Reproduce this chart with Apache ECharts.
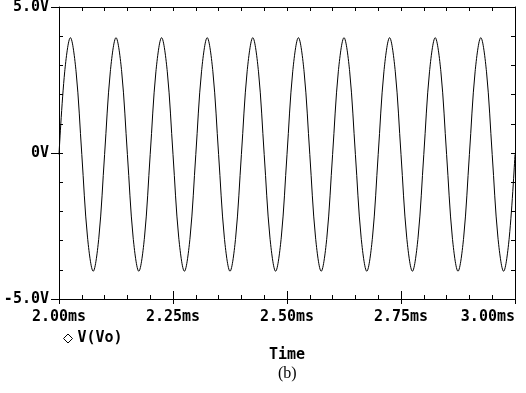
<!DOCTYPE html>
<html>
<head>
<meta charset="utf-8">
<script src="https://cdn.jsdelivr.net/npm/echarts@6/dist/echarts.min.js"></script>
<style>html,body{margin:0;padding:0;background:#fff}#c{width:526px;height:393px}</style>
</head>
<body>
<div id="c"></div>
<script>
// Time (ms)
const times = [
 2.0000,2.0125,2.0250,2.0375,2.0500,2.0625,2.0750,2.0875,
 2.1000,2.1125,2.1250,2.1375,2.1500,2.1625,2.1750,2.1875,
 2.2000,2.2125,2.2250,2.2375,2.2500,2.2625,2.2750,2.2875,
 2.3000,2.3125,2.3250,2.3375,2.3500,2.3625,2.3750,2.3875,
 2.4000,2.4125,2.4250,2.4375,2.4500,2.4625,2.4750,2.4875,
 2.5000,2.5125,2.5250,2.5375,2.5500,2.5625,2.5750,2.5875,
 2.6000,2.6125,2.6250,2.6375,2.6500,2.6625,2.6750,2.6875,
 2.7000,2.7125,2.7250,2.7375,2.7500,2.7625,2.7750,2.7875,
 2.8000,2.8125,2.8250,2.8375,2.8500,2.8625,2.8750,2.8875,
 2.9000,2.9125,2.9250,2.9375,2.9500,2.9625,2.9750,2.9875,
 3.0000
];
// V(Vo) in volts
const vo = [
 -0.05,2.78,3.95,2.78,-0.05,-2.88,-4.05,-2.88,
 -0.05,2.78,3.95,2.78,-0.05,-2.88,-4.05,-2.88,
 -0.05,2.78,3.95,2.78,-0.05,-2.88,-4.05,-2.88,
 -0.05,2.78,3.95,2.78,-0.05,-2.88,-4.05,-2.88,
 -0.05,2.78,3.95,2.78,-0.05,-2.88,-4.05,-2.88,
 -0.05,2.78,3.95,2.78,-0.05,-2.88,-4.05,-2.88,
 -0.05,2.78,3.95,2.78,-0.05,-2.88,-4.05,-2.88,
 -0.05,2.78,3.95,2.78,-0.05,-2.88,-4.05,-2.88,
 -0.05,2.78,3.95,2.78,-0.05,-2.88,-4.05,-2.88,
 -0.05,2.78,3.95,2.78,-0.05,-2.88,-4.05,-2.88,
 -0.05
];
const xLabels = ['2.00ms','2.25ms','2.50ms','2.75ms','3.00ms'];
const yLabels = {'-5':'-5.0V','0':'0V','5':'5.0V'};
const seriesName = 'V(Vo)';
const xTitle = 'Time';
const caption = '(b)';

const mono = '"DejaVu Sans Mono", monospace';
const blk = {color:'#000', width:1};
const chart = echarts.init(document.getElementById('c'), null, {renderer:'canvas'});
const hidden = {show:false};
const base = {type:'value', min:2, max:3, splitLine:hidden};
const lbl = {fontFamily:mono, fontWeight:'bold', fontSize:15, color:'#000'};
chart.setOption({
  animation:false,
  backgroundColor:'#fff',
  grid:{left:59, right:11, top:7, bottom:94, containLabel:false, outerBoundsMode:'none'},
  legend:{
    data:[seriesName], left:58, top:326, icon:'path://M5,0 L10,5 L5,10 L0,5 Z',
    itemWidth:9, itemHeight:9, itemGap:8,
    itemStyle:{color:'#fff', borderColor:'#000', borderWidth:1},
    textStyle:lbl
  },
  xAxis:[
    Object.assign({}, base, {position:'bottom', interval:0.25,
      axisLine:{show:true, onZero:false, lineStyle:blk},
      axisTick:{show:true, inside:false, length:5, lineStyle:blk},
      axisLabel:Object.assign({margin:11, alignMaxLabel:'right',
        formatter:(v)=>xLabels[Math.round((v-2)/0.25)]}, lbl),
      name:xTitle, nameLocation:'middle', nameGap:49,
      nameTextStyle:lbl}),
    Object.assign({}, base, {position:'bottom', interval:0.05,
      axisLine:{show:false, onZero:false}, axisLabel:hidden,
      axisTick:{show:true, inside:true, length:4, lineStyle:blk}}),
    Object.assign({}, base, {position:'bottom', interval:0.25,
      axisLine:{show:false, onZero:false}, axisLabel:hidden,
      axisTick:{show:true, inside:true, length:8, lineStyle:blk}}),
    Object.assign({}, base, {position:'top', interval:0.05,
      axisLine:{show:true, onZero:false, lineStyle:blk}, axisLabel:hidden,
      axisTick:{show:true, inside:true, length:4, lineStyle:blk}})
  ],
  yAxis:[
    {type:'value', position:'left', min:-5, max:5, interval:5, splitLine:hidden,
      axisLine:{show:true, onZero:false, lineStyle:blk},
      axisTick:{show:true, inside:false, length:8, lineStyle:blk},
      axisLabel:Object.assign({margin:10, formatter:(v)=>yLabels[String(v)]}, lbl)},
    {type:'value', position:'left', min:-5, max:5, interval:1, splitLine:hidden,
      axisLine:{show:false, onZero:false}, axisLabel:hidden,
      axisTick:{show:true, inside:true, length:4, lineStyle:blk}},
    {type:'value', position:'right', min:-5, max:5, interval:1, splitLine:hidden,
      axisLine:{show:true, onZero:false, lineStyle:blk}, axisLabel:hidden,
      axisTick:{show:true, inside:true, length:4, lineStyle:blk}}
  ],
  graphic:[{type:'text', left:278, top:366,
    style:{text:caption, font:'16px "Liberation Serif", serif', fill:'#000'}}],
  series:[{
    name:seriesName, type:'line', xAxisIndex:0, yAxisIndex:0,
    data:times.map((t,i)=>[t, vo[i]]), smooth:0.35, showSymbol:false,
    lineStyle:{color:'#000', width:1}, itemStyle:{color:'#000'}
  }]
});
</script>
</body>
</html>
